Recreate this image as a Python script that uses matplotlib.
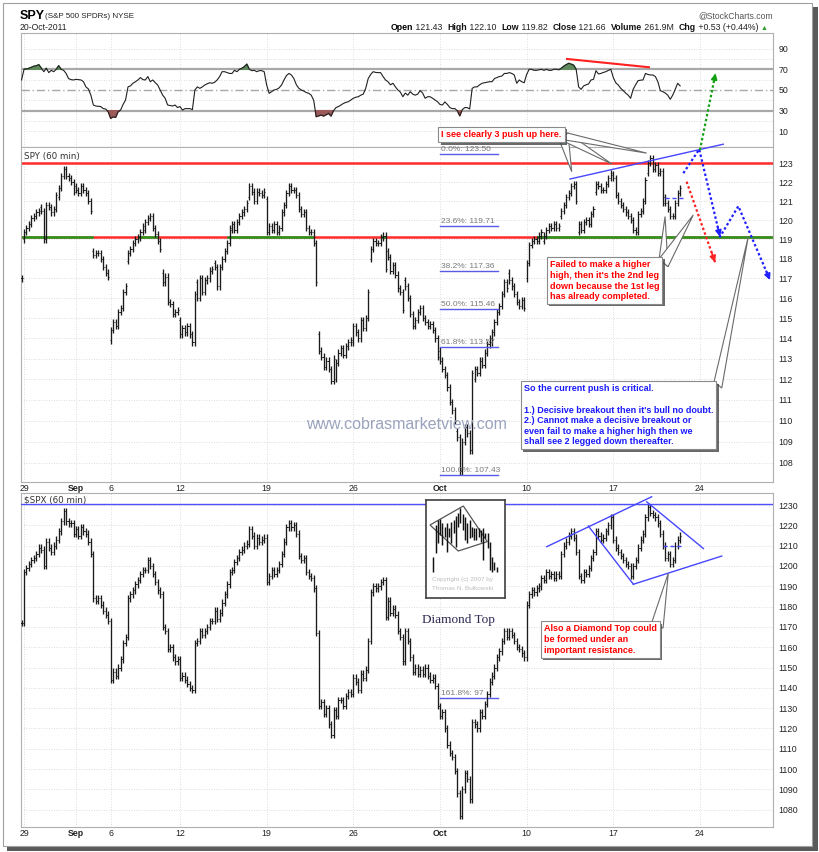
# import
import numpy as np
import matplotlib
matplotlib.use('Agg')
import matplotlib.pyplot as plt
from matplotlib.patches import Rectangle, Polygon
import matplotlib.patheffects as pe

plt.rcParams['font.family'] = ['Liberation Sans', 'DejaVu Sans']

# data: 60 min bars, 7 per trading day, first value is the last bar of 26 Aug
bars_per_day = 7
tick_labels = ['29', 'Sep', '6', '12', '19', '26', 'Oct', '10', '17', '24']
tick_days = [0, 3, 5, 9, 14, 19, 24, 29, 34, 39]

spy_close = [117.0,
    119.4, 119.6, 119.8, 120.1, 120.2, 120.4, 120.5,
    120.5, 119.0, 120.8, 120.7, 120.4, 120.6, 121.3,
    121.7, 122.3, 122.7, 122.3, 122.2, 122.0, 121.5,
    121.6, 121.4, 121.8, 121.6, 121.4, 121.0, 120.5,
    118.2, 118.3, 118.3, 118.0, 117.6, 117.3, 117.1,
    114.4, 114.8, 114.6, 115.3, 115.5, 116.3, 116.6,
    118.3, 118.5, 118.8, 119.0, 119.1, 119.4, 119.7,
    119.9, 120.1, 120.2, 119.6, 119.3, 118.9, 118.5,
    116.8, 117.1, 115.8, 115.7, 115.2, 115.3, 115.4,
    114.2, 114.5, 114.3, 114.6, 114.2, 113.8, 116.2,
    116.0, 117.0, 116.3, 116.9, 117.0, 117.4, 117.5,
    117.6, 116.6, 117.6, 118.0, 118.4, 118.8, 119.6,
    119.8, 119.5, 119.9, 120.2, 120.4, 120.6, 120.9,
    121.8, 121.5, 121.0, 121.5, 121.4, 121.3, 121.5,
    119.4, 119.7, 119.5, 119.8, 119.4, 119.6, 120.4,
    120.8, 121.4, 121.8, 121.6, 121.6, 121.3, 120.6,
    120.3, 120.4, 119.6, 119.4, 119.4, 118.8, 116.8,
    113.4, 113.1, 112.6, 112.9, 112.5, 111.9, 113.0,
    112.8, 113.3, 113.5, 113.2, 113.6, 113.8, 113.9,
    114.6, 114.3, 114.0, 114.9, 114.5, 115.0, 116.3,
    118.5, 118.9, 118.8, 118.8, 119.1, 119.2, 117.5,
    118.1, 117.4, 117.7, 117.2, 116.5, 116.3, 115.4,
    116.6, 116.0, 115.2, 114.6, 114.9, 115.3, 115.5,
    115.0, 114.8, 114.6, 114.7, 114.4, 114.0, 113.1,
    112.9, 112.5, 112.2, 111.6, 110.9, 110.5, 110.0,
    109.2, 107.6, 109.0, 109.7, 109.4, 108.6, 112.3,
    112.5, 112.3, 112.9, 112.7, 113.3, 113.7, 114.0,
    114.3, 114.8, 115.3, 115.6, 116.2, 116.8, 116.5,
    116.9, 116.6, 116.2, 115.8, 115.6, 115.9, 115.5,
    117.8, 118.7, 118.9, 119.0, 118.9, 119.2, 119.4,
    119.2, 119.5, 119.7, 119.6, 119.8, 119.6, 119.7,
    120.5, 120.8, 121.2, 121.4, 121.8, 121.9, 121.0,
    119.8, 119.5, 119.9, 120.0, 119.8, 120.3, 120.6,
    121.9, 121.8, 121.6, 121.6, 121.9, 122.2, 122.5,
    122.2, 121.3, 121.0, 120.8, 120.6, 120.4, 120.2,
    120.0, 119.5, 119.4, 120.3, 120.5, 121.0, 122.1,
    123.0, 123.3, 122.7, 122.9, 122.5, 122.6, 120.9,
    120.9, 120.6, 120.2, 120.2, 120.9, 121.4, 121.66]

# SPY opening price of each trading day (SPY gaps, the index does not)
spy_day_open = [119.0, 120.7, 121.2, 121.8, 118.4, 113.9, 117.9, 119.5, 117.3, 114.9,
                116.8, 117.8, 119.5, 121.2, 121.1, 120.4, 120.6, 114.2, 112.0, 113.8,
                118.0, 118.4, 116.9, 115.5, 113.4, 109.5, 112.0, 113.8, 117.3, 117.0,
                118.9, 120.2, 119.4, 121.5, 122.4, 120.2, 122.5, 121.2]

spx_close = [1172,
    1197, 1199, 1201, 1203, 1204, 1206, 1209,
    1208, 1200, 1212, 1209, 1207, 1210, 1213,
    1217, 1222, 1227, 1222, 1221, 1221, 1216,
    1218, 1215, 1219, 1217, 1216, 1212, 1206,
    1184, 1183, 1184, 1181, 1178, 1176, 1173,
    1144, 1148, 1146, 1150, 1154, 1162, 1165,
    1184, 1186, 1188, 1191, 1193, 1196, 1198,
    1198, 1203, 1200, 1196, 1192, 1188, 1186,
    1170, 1168, 1159, 1160, 1155, 1153, 1154,
    1145, 1146, 1144, 1142, 1140, 1139, 1162,
    1163, 1168, 1166, 1168, 1170, 1173, 1173,
    1178, 1174, 1177, 1182, 1186, 1191, 1197,
    1198, 1202, 1204, 1207, 1208, 1210, 1211,
    1218, 1215, 1210, 1214, 1212, 1213, 1214,
    1192, 1195, 1198, 1196, 1198, 1201, 1206,
    1212, 1219, 1221, 1219, 1220, 1216, 1205,
    1203, 1204, 1197, 1195, 1194, 1189, 1167,
    1131, 1133, 1127, 1130, 1122, 1117, 1129,
    1126, 1134, 1134, 1131, 1136, 1138, 1137,
    1145, 1143, 1139, 1147, 1145, 1149, 1163,
    1187, 1190, 1189, 1190, 1192, 1193, 1175,
    1183, 1177, 1179, 1176, 1168, 1165, 1153,
    1168, 1163, 1155, 1148, 1150, 1147, 1149,
    1147, 1150, 1146, 1144, 1145, 1141, 1131,
    1126, 1128, 1120, 1112, 1108, 1106, 1099,
    1088, 1077, 1090, 1098, 1095, 1085, 1123,
    1122, 1120, 1128, 1126, 1132, 1137, 1143,
    1146, 1150, 1155, 1158, 1163, 1168, 1165,
    1168, 1166, 1163, 1160, 1159, 1157, 1155,
    1181, 1186, 1188, 1187, 1189, 1190, 1194,
    1193, 1197, 1195, 1196, 1194, 1196, 1195,
    1206, 1210, 1212, 1215, 1217, 1214, 1207,
    1195, 1193, 1197, 1196, 1199, 1204, 1207,
    1217, 1215, 1213, 1214, 1217, 1220, 1224,
    1213, 1209, 1207, 1205, 1203, 1201, 1200,
    1195, 1200, 1203, 1209, 1213, 1216, 1224,
    1229, 1226, 1225, 1224, 1221, 1216, 1210,
    1204, 1206, 1201, 1203, 1210, 1213, 1215]

rsi = [59.7,
    70, 70.3, 71, 72, 73, 73.5, 74.5,
    71, 67.7, 71, 66.8, 69, 67.7, 70,
    73.5, 70, 69, 66, 61, 60, 59.7,
    60.3, 60, 59.7, 58, 53, 51, 45,
    35.5, 34.5, 34.3, 34, 32, 31.6, 29,
    22.6, 24, 23.5, 29, 30.6, 36, 40.3,
    53, 54, 56.5, 58, 59.7, 62, 60,
    59.7, 63, 58, 59.7, 57, 54.8, 50,
    45, 42, 35.5, 35, 34.5, 35.5, 33,
    34, 30.6, 32, 32, 32, 31, 50,
    53, 51.6, 53, 54.8, 56, 57, 56.5,
    57.5, 59.7, 63, 67.7, 67.7, 66.8, 66,
    66, 69, 67.7, 70, 71, 72.6, 75,
    70, 68.7, 69, 67.7, 68.7, 68.7, 67.7,
    54.8, 46.8, 48.4, 50, 50.6, 52, 54.8,
    59.7, 64, 66, 64.5, 61, 55, 51.6,
    50, 49, 47.5, 46.8, 45, 40, 24.2,
    25, 25.8, 24.8, 26, 27.4, 24.8, 30,
    33, 34, 35.5, 37, 38, 38.7, 40.3,
    42, 43, 43.5, 45, 46, 51.6, 61,
    65, 67.7, 67, 66.8, 66.8, 63, 59.7,
    58, 55, 56.5, 53, 50, 48, 43.5,
    47, 45, 48.4, 46, 45, 46, 49.4,
    47, 42, 43.5, 43.5, 42, 40.3, 38.7,
    36, 35.5, 38.5, 36, 33, 32, 32,
    30, 25, 31, 33, 33, 31.6, 51.6,
    53, 53, 55, 56.5, 57, 57.5, 58,
    58, 61, 62, 63, 63.5, 66, 66,
    66.8, 66, 64.5, 56.5, 59.7, 58, 57,
    65, 70, 70, 69, 69, 69.5, 70,
    69, 70, 69, 69, 70, 70, 69.5,
    71, 73, 74.5, 75.8, 75, 74, 70,
    53, 50.6, 53.9, 55, 55.8, 59.7, 60.3,
    68.7, 65.5, 66, 67, 67.7, 69, 70,
    62, 57, 54.8, 51.6, 49.4, 47, 45,
    42, 50.6, 55, 59, 59.5, 59.7, 66,
    65, 64.5, 64.5, 63, 58, 49.4, 48.4,
    47, 45, 41, 45, 50.6, 56.5, 54]

spy_ticks = list(range(108, 124))
spx_ticks = list(range(1080, 1240, 10))
rsi_ticks = [10, 30, 50, 70, 90]

resistance = 123.0
support = 119.14
fib_pct = ['0.0%', '23.6%', '38.2%', '50.0%', '61.8%', '100.0%']
fib_level = [123.50, 119.71, 117.36, 115.46, 113.57, 107.43]
spx_fib_pct = '161.8%'
spx_fib_level = 1134.8
spx_resistance = 1230.6

# thumbnail of the diamond top pattern (Bulkowski)
thumb_hi = [41.7, 73.3, 78.3, 79, 75, 71.7, 75, 70, 76.7, 78.3, 82.3, 85, 90, 84.3, 81.7,
            75, 78.3, 71.7, 70, 70, 70, 68.3, 70, 65, 65, 56.7, 41.7, 36.7, 31.7]
thumb_lo = [26.7, 45, 55, 63.3, 53.3, 61.7, 46.7, 61.7, 55, 65, 51.7, 71.7, 75, 68.3, 58.3,
            55, 60, 61.7, 58.3, 58.3, 61.7, 56.7, 38.3, 60, 50, 28.3, 26.7, 28.3, 26.7]
thumb_diamond = [(-1.46, 73.3), (13.27, 92.3), (23.85, 56.7), (11.04, 47.3)]

# figure preparation
W, H = 820, 852
fig = plt.figure(figsize=(W / 100, H / 100), dpi=100)


def rect(x0, y0, x1, y1):
    return [x0 / W, 1 - y1 / H, (x1 - x0) / W, (y1 - y0) / H]


fig.patches.append(Rectangle((7 / W, 1 - 851 / H), 811 / W, 844 / H, transform=fig.transFigure,
                             fc='#5a5a5a', ec='none', zorder=-3))
fig.patches.append(Rectangle((3 / W, 1 - 846 / H), 809 / W, 843 / H, transform=fig.transFigure,
                             fc='white', ec='#a0a0a0', lw=0.8, zorder=-2))

ax_rsi = fig.add_axes(rect(21.3, 33.3, 773, 147))
ax_spy = fig.add_axes(rect(21.3, 147, 773, 482))
ax_spx = fig.add_axes(rect(21.3, 493.3, 773, 826.7))

xk = np.arange(len(spy_close)) - 1
tick_pos = [d * bars_per_day for d in tick_days]
grid_kw = dict(color='#d2d2d2', lw=0.6, ls=(0, (1, 2)), zorder=0)

for ax in (ax_rsi, ax_spy, ax_spx):
    for s in ax.spines.values():
        s.set_color('#b0b0b0')
        s.set_linewidth(0.8)
    ax.set_xlim(-1.1, 302.5)
    ax.yaxis.tick_right()
    ax.tick_params(axis='both', length=0, labelsize=6.3, colors='#222222')
    ax.tick_params(axis='y', pad=4)
    ax.tick_params(axis='x', pad=1.5)
    ax.set_xticks(tick_pos)
    ax.set_xticklabels(tick_labels)
    for lbl in ax.get_xticklabels():
        if lbl.get_text() in ('Sep', 'Oct'):
            lbl.set_fontweight('bold')
    for t in tick_pos:
        ax.axvline(t, **grid_kw)
ax_rsi.tick_params(axis='x', labelbottom=False)


def draw_bars(ax, closes, opens, pad):
    c = np.array(closes, dtype=float)
    o = np.asarray(opens, dtype=float)
    hi = np.maximum(o, c) + pad
    lo = np.minimum(o, c) - pad
    ax.vlines(xk, lo, hi, color='#1a1a1a', lw=0.95, zorder=3)
    ax.hlines(c, xk, xk + 0.45, color='#1a1a1a', lw=0.7, zorder=3)
    ax.hlines(o, xk - 0.45, xk, color='#1a1a1a', lw=0.7, zorder=3)


def dotted_arrow(ax, pts, color, heads, logy):
    xs = [p[0] for p in pts]
    ys = [p[1] for p in pts]
    ax.plot(xs, ys, color=color, lw=1.6, ls=(0, (1.1, 1.1)), clip_on=False, zorder=6)
    for i in heads:
        (x0, y0), (x1, y1) = pts[i - 1], pts[i]
        xb = x0 + 0.88 * (x1 - x0)
        yb = y0 * (y1 / y0) ** 0.88 if logy else y0 + 0.88 * (y1 - y0)
        ax.annotate('', xy=(x1, y1), xytext=(xb, yb), annotation_clip=False, zorder=6,
                    arrowprops=dict(arrowstyle='-|>', color=color, lw=1.2,
                                    mutation_scale=9, shrinkA=0, shrinkB=0))


def callout(ax, x, y, text, color, apexes, base):
    t = ax.text(x, y, text, color=color, fontsize=6.5, fontweight='bold', ha='left', va='top',
                linespacing=1.22, zorder=9, clip_on=False,
                bbox=dict(boxstyle='square,pad=0.35', fc='white', ec='#8a8a8a', lw=0.8))
    t.get_bbox_patch().set_path_effects([pe.withSimplePatchShadow(offset=(1.6, -1.6),
                                                                  shadow_rgbFace='#444444', alpha=0.8)])
    for a in apexes:
        ax.add_patch(Polygon([base[0], a, base[1]], closed=True, fc='white', ec='#6a6a6a',
                             lw=0.8, zorder=8, clip_on=False))


# RSI panel
ax_rsi.set_ylim(-5.1, 104.8)
ax_rsi.set_yticks(rsi_ticks)
for v in range(10, 100, 10):
    if v not in (30, 50, 70):
        ax_rsi.axhline(v, **grid_kw)
ax_rsi.axhline(70, color='#a8a8a8', lw=1.6, zorder=1)
ax_rsi.axhline(30, color='#a8a8a8', lw=1.6, zorder=1)
ax_rsi.axhline(50, color='#a8a8a8', lw=1.0, ls=(0, (6, 2, 1, 2)), zorder=1)
r = np.array(rsi)
ax_rsi.fill_between(xk, r, 70, where=r > 70, interpolate=True, color='#5f8a5c', zorder=2)
ax_rsi.fill_between(xk, r, 30, where=r < 30, interpolate=True, color='#9c5a58', zorder=2)
ax_rsi.plot(xk, r, color='#202020', lw=0.8, zorder=3)
ax_rsi.plot([219.3, 252.4], [80, 72], color='#ff2020', lw=1.5, zorder=4)

# SPY panel
ax_spy.set_yscale('log')
ax_spy.set_ylim(107.11, 123.87)
ax_spy.set_yticks(spy_ticks)
ax_spy.set_yticklabels([str(v) for v in spy_ticks])
ax_spy.set_yticks([], minor=True)
for v in spy_ticks:
    ax_spy.axhline(v, **grid_kw)

spy_open = [spy_close[0]] + spy_close[:-1]
for d, o in enumerate(spy_day_open):
    spy_open[1 + d * bars_per_day] = o
draw_bars(ax_spy, spy_close, spy_open, 0.16)

ax_spy.axhline(resistance, color='#ff2a2a', lw=1.8, zorder=2)
ax_spy.axhline(support, color='#ff2a2a', lw=1.8, zorder=2)
above = np.array(spy_close) > support
start = None
for i, flag in enumerate(above):
    if flag and start is None:
        start = xk[i] - 0.5
    if not flag and start is not None:
        ax_spy.plot([start, xk[i] - 0.5], [support, support], color='#1f9a1f', lw=1.8, zorder=2)
        start = None
if start is not None:
    ax_spy.plot([start, 302.5], [support, support], color='#1f9a1f', lw=1.8, zorder=2)

for pct, lvl in zip(fib_pct, fib_level):
    ax_spy.plot([168, 191.5], [lvl, lvl], color='#5a5ae8', lw=1.0, zorder=4)
    ax_spy.annotate(f'{pct}: {lvl:.2f}', xy=(168.4, lvl), xytext=(0, 0.8), textcoords='offset points',
                    fontsize=6, color='#7a7a7a', va='bottom', ha='left', zorder=4,
                    annotation_clip=False)

ax_spy.text(154.3, 109.8, 'www.cobrasmarketview.com', fontsize=11.5, color='#9aa3bd',
            ha='center', va='center', zorder=5)
ax_spy.text(0.003, 0.985, 'SPY (60 min)', transform=ax_spy.transAxes, fontsize=6.3,
            color='#333333', va='top', ha='left', family=['DejaVu Sans'], zorder=5)

ax_spy.plot([220.5, 282.4], [122.16, 124.02], color='#4646ff', lw=1.0, clip_on=False, zorder=5)
ax_spy.plot([258.9, 266.2], [121.15, 121.15], color='#4646ff', lw=1.0, ls=(0, (3, 2)), zorder=5)

dotted_arrow(ax_spy, [(267.6, 122.02), (279.1, 117.83)], '#ff2020', [1], True)
dotted_arrow(ax_spy, [(266.3, 122.47), (272.7, 123.75), (281.1, 119.14), (288.5, 120.73),
                      (301.3, 116.92)], '#2020ff', [2, 4], True)
dotted_arrow(ax_spy, [(273.0, 123.71), (279.3, 127.9)], '#12a012', [1], True)

callout(ax_spy, 168.6, 124.78, 'I see clearly 3 push up here.', '#ff0000',
        [(221.2, 122.55), (237.4, 122.96), (251.5, 123.54)], [(216.0, 124.3), (219.7, 124.62)])
callout(ax_spy, 212.3, 117.92,
        "Failed to make a higher\nhigh, then it's the 2nd leg\ndown because the 1st leg\nhas already completed.",
        '#ff0000', [(258.9, 120.19), (270.3, 120.27)], [(256.5, 118.0), (260.1, 117.6)])
callout(ax_spy, 201.8, 111.74,
        "So the current push is critical.\n\n1.) Decisive breakout then it's bull no doubt.\n"
        "2.) Cannot make a decisive breakout or\neven fail to make a higher high then we\n"
        "shall see 2 legged down thereafter.",
        '#1a1aff', [(292.5, 119.14)], [(278.7, 111.88), (281.8, 111.57)])

# SPX panel
ax_spx.set_ylim(1071.6, 1235.8)
ax_spx.set_yticks(spx_ticks)
ax_spx.set_yticklabels([str(v) for v in spx_ticks])
for v in spx_ticks:
    ax_spx.axhline(v, **grid_kw)
spx_open = [spx_close[0]] + spx_close[:-1]
draw_bars(ax_spx, spx_close, spx_open, 1.6)

ax_spx.axhline(spx_resistance, color='#5050ff', lw=1.0, zorder=4)
ax_spx.text(0.003, 0.993, '$SPX (60 min)', transform=ax_spx.transAxes, fontsize=6.3,
            color='#333333', va='top', ha='left', family=['DejaVu Sans'], zorder=5)
ax_spx.plot([168, 191.4], [spx_fib_level, spx_fib_level], color='#5a5ae8', lw=1.0, zorder=2)
ax_spx.annotate(f'{spx_fib_pct}: 97', xy=(168.4, spx_fib_level), xytext=(0, 0.8),
                textcoords='offset points', fontsize=6, color='#7a7a7a', va='bottom', zorder=2)

diamond_lines = [[(211.1, 1209.5), (253.5, 1234.1)], [(251.5, 1231.6), (274.4, 1208.6)],
                 [(227.9, 1219.7), (246.1, 1191.0)], [(246.1, 1191.0), (281.8, 1204.9)]]
for (x0, y0), (x1, y1) in diamond_lines:
    ax_spx.plot([x0, x1], [y0, y1], color='#4646ff', lw=1.0, zorder=5)
ax_spx.plot([258.2, 266.3], [1210, 1210], color='#4646ff', lw=1.0, ls=(0, (3, 2)), zorder=5)

ax_spx.text(175.3, 1173.4, 'Diamond Top', fontsize=9.5, color='#2c2850', ha='center', va='center',
            family=['Liberation Serif', 'DejaVu Serif'], zorder=5)
callout(ax_spx, 209.9, 1171.2,
        'Also a Diamond Top could\nbe formed under an\nimportant resistance.', '#ff0000',
        [(260.2, 1196.4)], [(253.6, 1172.4), (258.1, 1169.4)])

# thumbnail inset
ax_th = fig.add_axes(rect(426, 500, 505, 598.3))
ax_th.set_xlim(-3.22, 31.67)
ax_th.set_ylim(0, 98.3)
ax_th.set_xticks([])
ax_th.set_yticks([])
for s in ax_th.spines.values():
    s.set_color('#404040')
    s.set_linewidth(1.2)
ti = np.arange(len(thumb_hi))
ax_th.vlines(ti, thumb_lo, thumb_hi, color='#111111', lw=1.05)
ax_th.add_patch(Polygon(thumb_diamond, closed=True, fill=False, ec='#555555', lw=0.9))
ax_th.text(-0.7, 18.3, 'Copyright (c) 2007 by', fontsize=4.6, color='#bdbdbd', va='center')
ax_th.text(-0.7, 10, 'Thomas N. Bulkowski', fontsize=4.6, color='#bdbdbd', va='center')

# header
fig.text(20 / W, 1 - 16 / H, 'SPY', fontsize=9, fontweight='bold', va='center')
fig.text(45 / W, 1 - 16.5 / H, '(S&P 500 SPDRs) NYSE', fontsize=5.8, va='center', color='#222222')
fig.text(20 / W, 1 - 27 / H, '20-Oct-2011', fontsize=6.2, va='center', color='#222222')
fig.text(773 / W, 1 - 16 / H, '@StockCharts.com', fontsize=6.2, ha='right', va='center', color='#555555')

pieces = [('Open', 'bold', '#111111'), (' 121.43  ', 'normal', '#222222'),
          ('High', 'bold', '#111111'), (' 122.10  ', 'normal', '#222222'),
          ('Low', 'bold', '#111111'), (' 119.82  ', 'normal', '#222222'),
          ('Close', 'bold', '#111111'), (' 121.66  ', 'normal', '#222222'),
          ('Volume', 'bold', '#111111'), (' 261.9M  ', 'normal', '#222222'),
          ('Chg', 'bold', '#111111'), (' +0.53 (+0.44%) ', 'normal', '#222222'),
          ('\u25b2', 'normal', '#2a9a2a')]
prev = fig.text(391 / W, 1 - 31.5 / H, pieces[0][0], fontsize=6.3, fontweight='bold', va='bottom')
for s, w, c in pieces[1:]:
    size = 5 if s == '\u25b2' else 6.3
    prev = ax_rsi.annotate(s, xy=(1, 0), xycoords=prev, fontsize=size, fontweight=w, color=c,
                           va='bottom', ha='left', annotation_clip=False)

fig.savefig('out.png', dpi=100)
